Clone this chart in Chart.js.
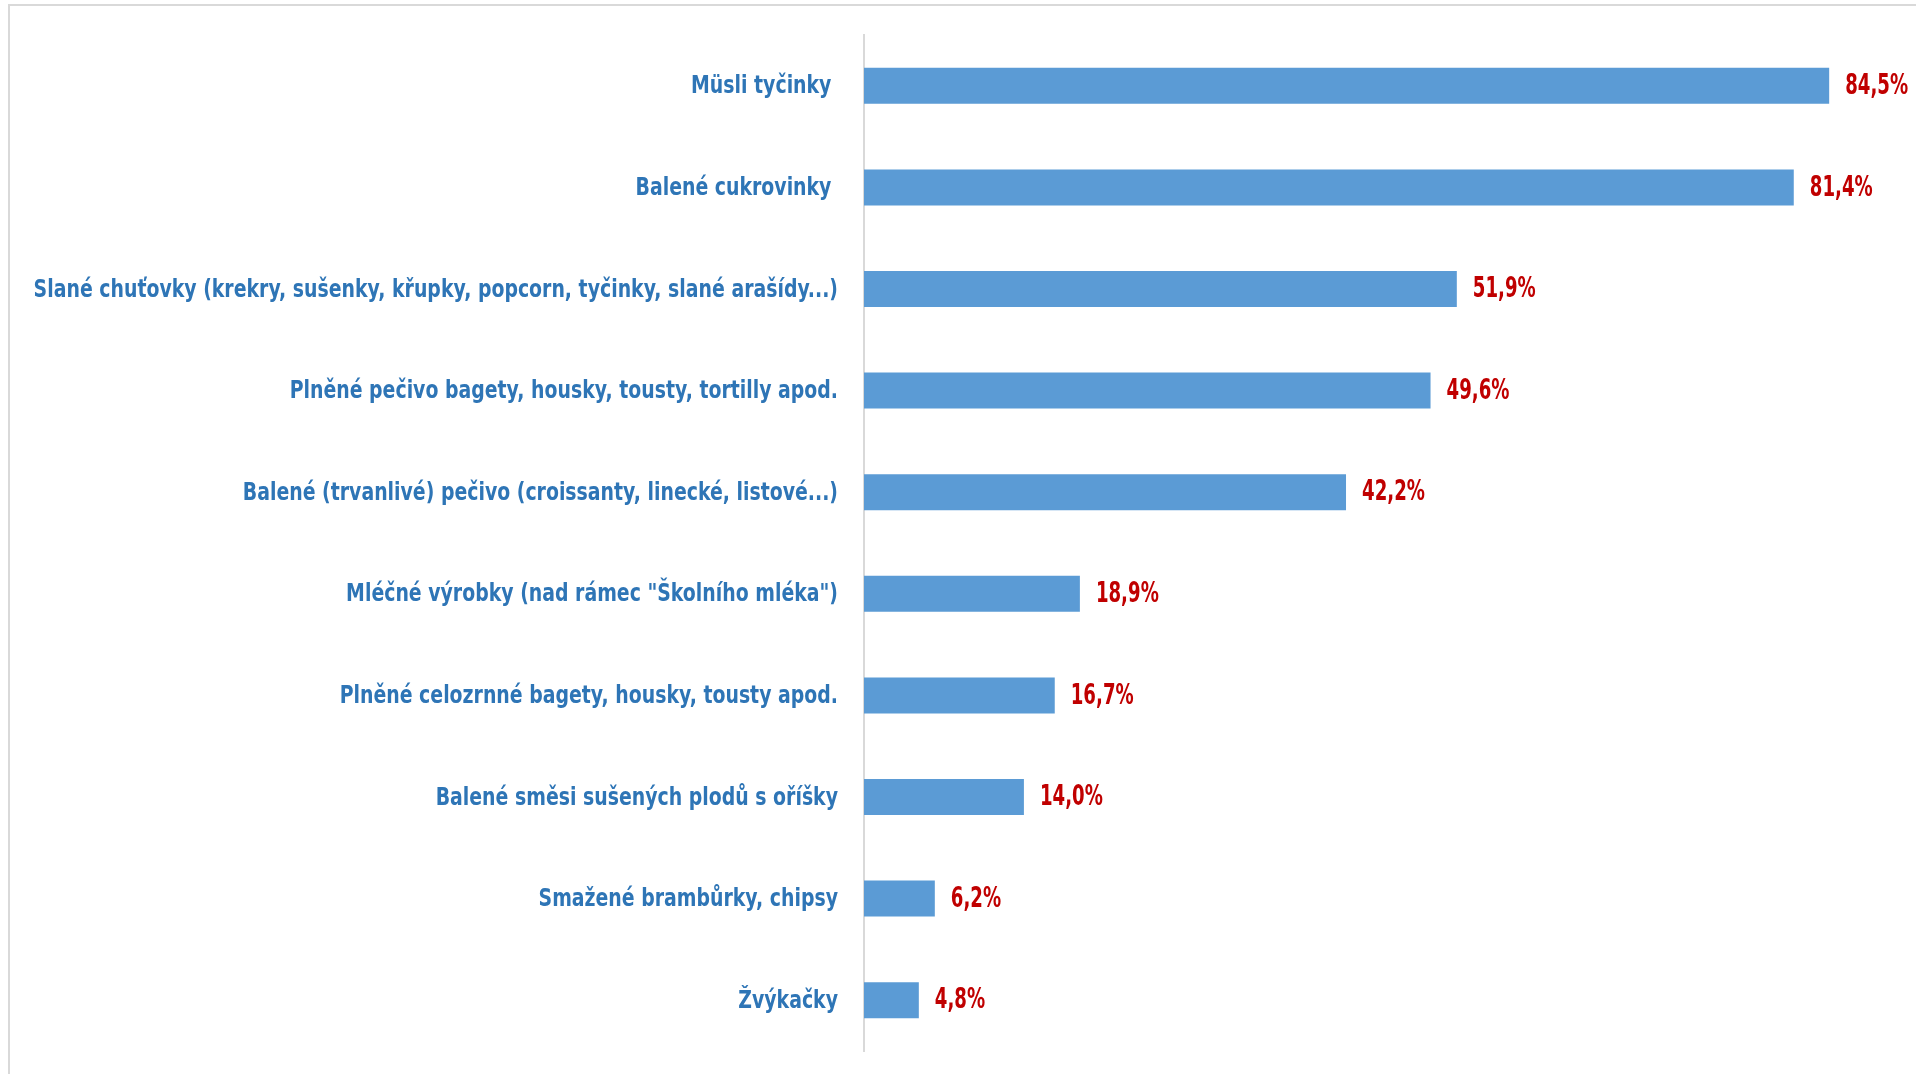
<!DOCTYPE html>
<html>
<head>
<meta charset="utf-8">
<script src="https://cdn.jsdelivr.net/npm/chart.js@4.4.1/dist/chart.umd.min.js"></script>
<style>
    html, body { margin: 0; padding: 0; background: #ffffff; overflow: hidden; }
    #wrap { position: relative; width: 1916px; height: 1074px; }
    #frame {
        position: absolute; left: 8px; top: 4px; width: 1940px; height: 1100px;
        border-top: 2px solid #d9d9d9; border-left: 2px solid #d9d9d9;
    }
    #big_graph { position: absolute; left: 0; top: 0; }
</style>
</head>
<body>
<div id="wrap">
    <div id="frame"></div>
    <canvas id="big_graph" width="1916" height="1074"></canvas>
</div>
<script>
const categories = [
    'Müsli tyčinky ',
    'Balené cukrovinky ',
    'Slané chuťovky (krekry, sušenky, křupky, popcorn, tyčinky, slané arašídy...)',
    'Plněné pečivo bagety, housky, tousty, tortilly apod.',
    'Balené (trvanlivé) pečivo (croissanty, linecké, listové...)',
    'Mléčné výrobky (nad rámec "Školního mléka")',
    'Plněné celozrnné bagety, housky, tousty apod.',
    'Balené směsi sušených plodů s oříšky',
    'Smažené brambůrky, chipsy',
    'Žvýkačky',
];
const shares = [84.5, 81.4, 51.9, 49.6, 42.2, 18.9, 16.7, 14.0, 6.2, 4.8];

const FONT = '"DejaVu Sans Condensed", "DejaVu Sans", sans-serif';

// draws text squeezed horizontally (the installed fonts are wider than the design font)
function narrowText(ctx, txt, x, y, sx) {
    ctx.save();
    ctx.translate(x, y);
    ctx.scale(sx, 1);
    ctx.fillText(txt, 0, 0);
    ctx.restore();
}

// category names left of the axis, percentages right of each bar
const barLabels = {
    id: 'barLabels',
    afterDatasetsDraw(chart) {
        const ctx = chart.ctx;
        const yScale = chart.scales.y;
        const meta = chart.getDatasetMeta(0);
        ctx.save();
        ctx.textBaseline = 'middle';

        ctx.font = 'bold 25px ' + FONT;
        ctx.fillStyle = '#2e75b6';
        ctx.textAlign = 'right';
        categories.forEach((name, i) => {
            narrowText(ctx, name, yScale.right - 26, yScale.getPixelForTick(i) + 1, 0.84);
        });

        ctx.font = 'bold 28px ' + FONT;
        ctx.fillStyle = '#c00000';
        ctx.textAlign = 'left';
        meta.data.forEach((bar, i) => {
            const txt = shares[i].toFixed(1).replace('.', ',') + '%';
            narrowText(ctx, txt, bar.x + 16, bar.y + 1, 0.72);
        });
        ctx.restore();
    }
};

const config = {
    type: 'bar',
    data: {
        labels: categories,
        datasets: [{
            label: 'podíl',
            data: shares,
            backgroundColor: '#5b9bd5',
            borderWidth: 0,
            categoryPercentage: 1,
            barPercentage: 0.354,
        }]
    },
    options: {
        indexAxis: 'y',
        responsive: false,
        animation: false,
        layout: {
            padding: { top: 35, bottom: 23, left: 0, right: 24 }
        },
        plugins: {
            legend: { display: false },
            title: { display: false },
            tooltip: { enabled: false }
        },
        scales: {
            x: {
                display: false,
                min: 0,
                max: 90,
            },
            y: {
                afterFit(scale) {
                    scale.width = 864;
                    scale.paddingTop = 0;
                    scale.paddingBottom = 0;
                },
                grid: {
                    display: false,
                    drawTicks: false,
                },
                border: {
                    display: true,
                    color: '#d9d9d9',
                    width: 2,
                },
                ticks: {
                    display: false,
                }
            }
        }
    },
    plugins: [barLabels]
};

window.addEventListener('load', function () {
    new Chart(document.getElementById('big_graph'), config);
});
</script>
</body>
</html>
